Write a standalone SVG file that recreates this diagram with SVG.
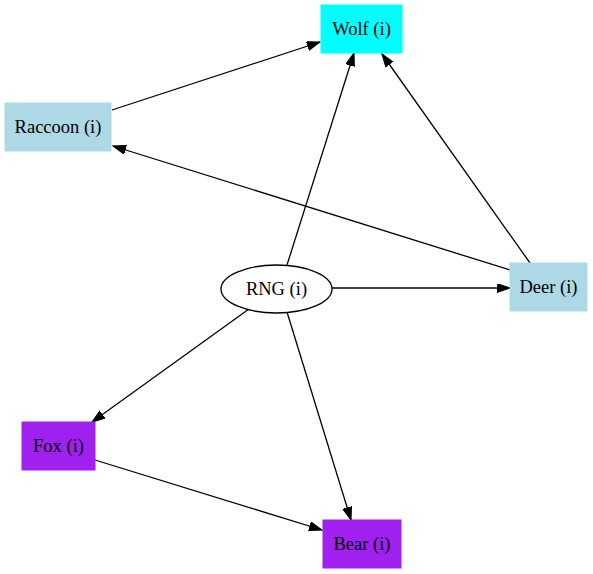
<svg xmlns="http://www.w3.org/2000/svg" width="593" height="574" viewBox="0 0 593 574">
  <style>
    .lbl { font-family: "Liberation Serif", "Times New Roman", serif; font-size: 18.5px; fill: #000; text-anchor: middle; dominant-baseline: central; }
    .edge { stroke: #000; stroke-width: 1.3; fill: none; marker-end: url(#arrow); }
    .blue { fill: #add8e6; stroke: #add8e6; }
    .cyan { fill: #00ffff; stroke: #00ffff; }
    .purple { fill: #a020f0; stroke: #a020f0; }
  </style>
  <defs>
    <marker id="arrow" markerUnits="userSpaceOnUse" markerWidth="14" markerHeight="10" refX="13" refY="4.5" orient="auto">
      <path d="M0,0 L13,4.5 L0,9 z" fill="#000" stroke="#000" stroke-width="1"/>
    </marker>
  </defs>
  <rect width="593" height="574" fill="#fff"/>

  <g id="edges">
    <line class="edge" x1="112" y1="110" x2="320" y2="42"/>
    <line class="edge" x1="510" y1="270" x2="113" y2="146"/>
    <line class="edge" x1="287" y1="265" x2="354" y2="53"/>
    <line class="edge" x1="530" y1="263" x2="382" y2="54"/>
    <line class="edge" x1="332" y1="288" x2="510" y2="288"/>
    <line class="edge" x1="249" y1="309" x2="92" y2="422"/>
    <line class="edge" x1="287" y1="312" x2="351" y2="520"/>
    <line class="edge" x1="95" y1="460" x2="322" y2="530"/>
  </g>

  <g id="wolf">
    <rect class="cyan" x="321" y="5" width="81" height="48"/>
    <text class="lbl" x="361.5" y="29">Wolf (i)</text>
  </g>
  <g id="raccoon">
    <rect class="blue" x="5" y="103" width="106" height="48"/>
    <text class="lbl" x="58" y="127">Raccoon (i)</text>
  </g>
  <g id="rng">
    <ellipse cx="276.5" cy="289" rx="55.5" ry="24" fill="#fff" stroke="#000" stroke-width="1.3"/>
    <text class="lbl" x="276.5" y="289">RNG (i)</text>
  </g>
  <g id="deer">
    <rect class="blue" x="510" y="263" width="77" height="48"/>
    <text class="lbl" x="548.5" y="287">Deer (i)</text>
  </g>
  <g id="fox">
    <rect class="purple" x="22" y="422" width="73" height="48"/>
    <text class="lbl" x="58.5" y="446">Fox (i)</text>
  </g>
  <g id="bear">
    <rect class="purple" x="323" y="520" width="78" height="48"/>
    <text class="lbl" x="362" y="544">Bear (i)</text>
  </g>
</svg>
